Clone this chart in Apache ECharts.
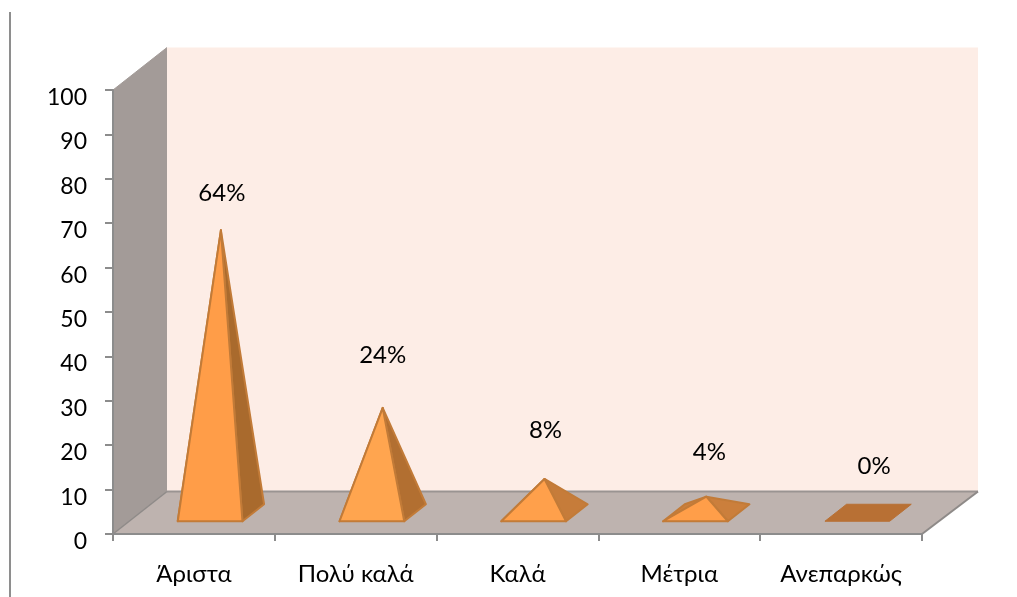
<!DOCTYPE html>
<html><head><meta charset="utf-8">
<script src="https://cdn.jsdelivr.net/npm/echarts@6/dist/echarts.min.js"></script>
<style>html,body{margin:0;padding:0;background:#fff}#c{width:1017px;height:597px}</style>
</head><body><div id="c"></div>
<script>
const categories = ['Άριστα', 'Πολύ καλά', 'Καλά', 'Μέτρια', 'Ανεπαρκώς'];
const values = [64, 24, 8, 4, 0];
const valueLabels = ['64%', '24%', '8%', '4%', '0%'];
const yTicks = { min: 0, max: 100, interval: 10 };

// style constants
const FONT = 'Lato, "Noto Sans", sans-serif';
const DEPTH = { dx: 54, dy: -42.5 };
const WALL_OVERHANG = 2;
const BASE_W = 0.4, DEPTH_NEAR = 0.30, DEPTH_FAR = 0.70, APEX_DEPTH = 0.46;
const frontColors = ['#FF9D48', '#FFA54F', '#FFA04B', '#FF9E49', '#B87034'];
const sideColors = ['#A96A2D', '#B26F31', '#C67C3A', '#CB7F3C', '#B87034'];
const EDGE = '#C27B38';
const labelLift = [37, 53, 49, 44, 48];
const labelShift = [1, 0, 1, 3, 6];

const chart = echarts.init(document.getElementById('c'));

function wallItem(params, api) {
  const cs = params.coordSys;
  const x0 = cs.x, x1 = cs.x + cs.width, yB = cs.y + cs.height, yT = cs.y;
  const d = DEPTH, bx1 = x1 + d.dx + WALL_OVERHANG;
  const poly = (pts, fill) => ({ type: 'polygon', shape: { points: pts }, style: { fill, stroke: 'none' } });
  const ln = (a, b, stroke, w) => ({ type: 'line', shape: { x1: a[0], y1: a[1], x2: b[0], y2: b[1] }, style: { stroke, lineWidth: w } });
  return {
    type: 'group', children: [
      poly([[x0 + d.dx, yT + d.dy], [bx1, yT + d.dy], [bx1, yB + d.dy], [x0 + d.dx, yB + d.dy]], '#FDEDE6'),
      poly([[x0, yB], [x0, yT], [x0 + d.dx, yT + d.dy], [x0 + d.dx, yB + d.dy]], '#A39B98'),
      poly([[x0, yB], [x1, yB], [bx1, yB + d.dy], [x0 + d.dx, yB + d.dy]], '#BEB3AF'),
      ln([x0 + d.dx, yB + d.dy], [bx1, yB + d.dy], '#9A9492', 2),
      ln([x0, yB], [x0 + d.dx, yB + d.dy], '#8E8A88', 1.5),
      ln([x1, yB], [bx1, yB + d.dy], '#8E8A88', 2),
      ln([x0 + d.dx, yT + d.dy], [x0, yT], '#A39B98', 1)
    ]
  };
}

function pyramidItem(params, api) {
  const i = api.value(0), v = api.value(1);
  const zero = api.coord([i, 0]);
  const top = api.coord([i, v]);
  const w = api.size([1, 0])[0] * BASE_W;
  const d = DEPTH;
  const at = (cx, cy, t) => [cx + d.dx * t, cy + d.dy * t];
  const fl = at(zero[0] - w / 2, zero[1], DEPTH_NEAR);
  const fr = at(zero[0] + w / 2, zero[1], DEPTH_NEAR);
  const bl = at(zero[0] - w / 2, zero[1], DEPTH_FAR);
  const br = at(zero[0] + w / 2, zero[1], DEPTH_FAR);
  const apex = [top[0] + d.dx * 0.5, top[1] + d.dy * APEX_DEPTH];
  const edge = { stroke: EDGE, lineWidth: 2, lineJoin: 'round' };
  const face = (pts, fill) => ({ type: 'polygon', shape: { points: pts }, style: Object.assign({ fill }, edge) });
  const kids = [];
  if (v === 0) {
    kids.push({ type: 'polygon', shape: { points: [fl, fr, br, bl] }, style: { fill: sideColors[i], stroke: sideColors[i], lineWidth: 1 } });
  } else {
    kids.push(face([fl, bl, apex], sideColors[i]));
    kids.push(face([fr, br, apex], sideColors[i]));
    kids.push(face([fl, fr, apex], frontColors[i]));
  }
  kids.push({
    type: 'text',
    style: {
      x: apex[0] + labelShift[i], y: apex[1] - labelLift[i], text: valueLabels[i],
      align: 'center', verticalAlign: 'middle',
      font: '24px ' + FONT, fill: '#000'
    }
  });
  return { type: 'group', children: kids };
}

chart.setOption({
  animation: false,
  backgroundColor: '#fff',
  grid: { left: 113, right: 95, top: 90, bottom: 63, containLabel: false },
  graphic: [{
    type: 'line', shape: { x1: 10, y1: 12, x2: 10, y2: 597 },
    style: { stroke: '#8E8E8E', lineWidth: 2 }
  }],
  xAxis: {
    type: 'category', data: categories, z: 10,
    axisLine: { lineStyle: { color: '#8C8C8C', width: 2 } },
    axisTick: { show: true, alignWithLabel: false, length: 7, lineStyle: { color: '#8C8C8C', width: 2 } },
    axisLabel: { color: '#000', fontFamily: FONT, fontSize: 24, margin: 28 },
    splitLine: { show: false }
  },
  yAxis: {
    type: 'value', min: yTicks.min, max: yTicks.max, interval: yTicks.interval, z: 10,
    axisLine: { show: true, lineStyle: { color: '#8C8C8C', width: 2 } },
    axisTick: { show: true, length: 8, lineStyle: { color: '#8C8C8C', width: 2 } },
    axisLabel: { color: '#000', fontFamily: FONT, fontSize: 23, margin: 26, verticalAlign: 'top', lineHeight: 15 },
    splitLine: { show: false }
  },
  series: [
    { type: 'custom', silent: true, z: 1, renderItem: wallItem, data: [0], clip: false, encode: { x: 0 } },
    { type: 'custom', silent: true, z: 2, renderItem: pyramidItem, clip: false,
      encode: { x: 0, y: 1 },
      data: values.map((v, i) => [i, v]) }
  ]
});
</script></body></html>
